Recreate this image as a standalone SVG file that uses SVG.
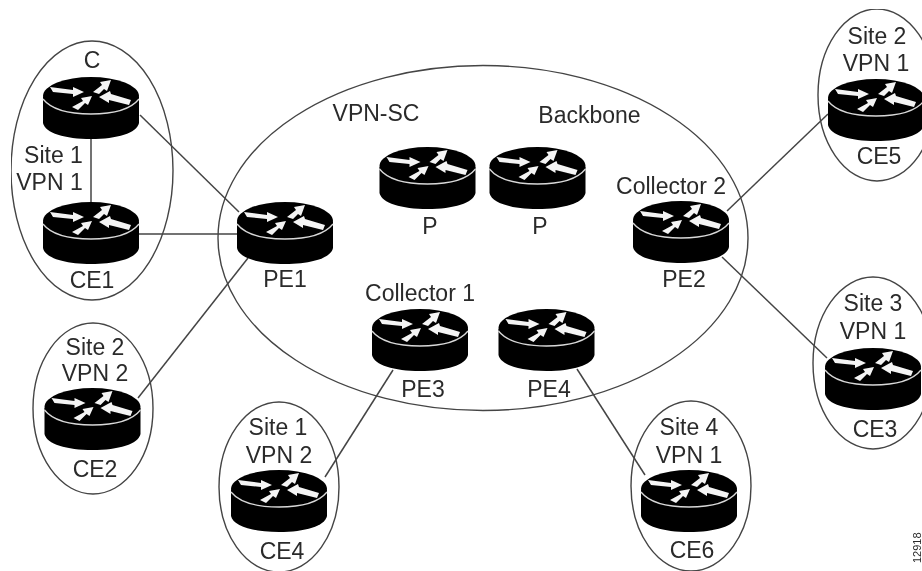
<svg xmlns="http://www.w3.org/2000/svg" width="922" height="571" viewBox="0 0 922 571">
<style>
text{font-family:"Liberation Sans",Arial,sans-serif;font-size:23px;fill:#2a2a2a;text-anchor:middle}
.ring{fill:none;stroke:#444;stroke-width:1.4}
.link{fill:none;stroke:#444;stroke-width:1.5}
</style>
<defs>
<filter id="soft" x="0" y="0" width="100%" height="100%"><feGaussianBlur stdDeviation="0.5"/></filter>
<g id="router">
<path d="M-48 2V28C-46 38-26 44 0 44S46 38 48 28V2Z" fill="#000"/>
<ellipse cx="0" cy="1" rx="48" ry="19" fill="#000"/>
<path d="M-48 4C-40 14-22 19 0 19S40 14 48 4" fill="none" stroke="#d8d8d8" stroke-width="1.3"/>
<polygon points="-41,-8 -38,-3 -18,-1 -18,2 -7,-3 -18,-8 -18,-5" fill="#f4f4f4"/>
<polygon points="2,-3 8,-1 13,-6 16,-4 20,-15 9,-13 11,-10" fill="#f4f4f4"/>
<polygon points="40,5 38,10 18,5 18,8 8,2 19,-4 20,-1" fill="#f4f4f4"/>
<polygon points="-19,12 -13,15 -6,8 -3,10 1,1 -10,3 -8,6" fill="#f4f4f4"/>
</g>
</defs>
<g filter="url(#soft)">
<g id="regions">
<ellipse class="ring" cx="483" cy="238" rx="265" ry="172.500"/>
<ellipse class="ring" cx="92" cy="170.500" rx="81" ry="129.500"/>
<ellipse class="ring" cx="93" cy="408.500" rx="60" ry="85.500"/>
<ellipse class="ring" cx="279" cy="487" rx="60" ry="85"/>
<ellipse class="ring" cx="691" cy="486" rx="60" ry="85"/>
<ellipse class="ring" cx="877" cy="95" rx="59" ry="86"/>
<ellipse class="ring" cx="873" cy="363" rx="60" ry="86"/>
</g>
<g id="connectors">
<line class="link" x1="91" y1="138" x2="91" y2="203"/>
<line class="link" x1="140" y1="115" x2="239" y2="212"/>
<line class="link" x1="139" y1="234" x2="238" y2="234"/>
<line class="link" x1="248" y1="258" x2="138" y2="398"/>
<line class="link" x1="727" y1="211" x2="828" y2="114"/>
<line class="link" x1="722" y1="257" x2="827" y2="358"/>
<line class="link" x1="393" y1="370" x2="325" y2="477"/>
<line class="link" x1="577" y1="369" x2="645" y2="475"/>
</g>
<g id="C"><use href="#router" x="91" y="95"/><text x="92" y="68">C</text><text x="53.500" y="163">Site 1</text><text x="49.500" y="190">VPN 1</text></g>
<g id="CE1"><use href="#router" x="91" y="220"/><text x="92" y="288">CE1</text></g>
<g id="PE1"><use href="#router" x="285" y="220"/><text x="285" y="287">PE1</text></g>
<g id="P1"><use href="#router" x="427.500" y="165"/><text x="430" y="234">P</text></g>
<g id="P2"><use href="#router" x="537.500" y="165"/><text x="540" y="234">P</text></g>
<g id="PE2"><use href="#router" x="681" y="219"/><text x="671" y="194">Collector 2</text><text x="684" y="287">PE2</text></g>
<g id="PE3"><use href="#router" x="420" y="327"/><text x="420" y="301">Collector 1</text><text x="423" y="397">PE3</text></g>
<g id="PE4"><use href="#router" x="546.500" y="327"/><text x="549" y="397">PE4</text></g>
<g id="CE2"><use href="#router" x="92.500" y="406"/><text x="95" y="355">Site 2</text><text x="95" y="381">VPN 2</text><text x="95" y="477">CE2</text></g>
<g id="CE4"><use href="#router" x="279" y="488"/><text x="278" y="435">Site 1</text><text x="279" y="463">VPN 2</text><text x="282" y="559">CE4</text></g>
<g id="CE6"><use href="#router" x="689" y="488"/><text x="689" y="435">Site 4</text><text x="689" y="463">VPN 1</text><text x="692" y="558">CE6</text></g>
<g id="CE5"><use href="#router" x="876" y="97"/><text x="877" y="44">Site 2</text><text x="876" y="71">VPN 1</text><text x="879" y="164">CE5</text></g>
<g id="CE3"><use href="#router" x="873" y="366"/><text x="873" y="311">Site 3</text><text x="873" y="339">VPN 1</text><text x="875" y="437">CE3</text></g>
<g id="labels">
<text x="376" y="121">VPN-SC</text>
<text x="589.500" y="123">Backbone</text>
<text transform="translate(921,563) rotate(-90)" style="font-size:11px;text-anchor:start">12918</text>
</g>
</g>
</svg>
